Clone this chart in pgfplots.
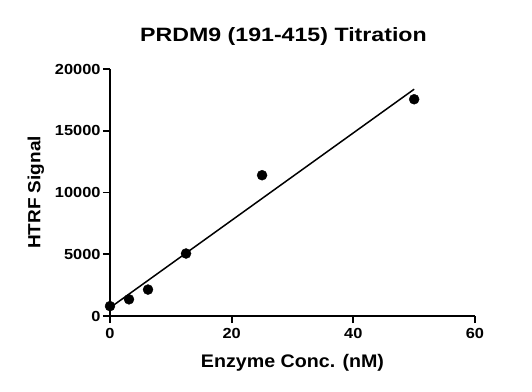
\documentclass[border=0pt]{standalone}
\usepackage{pgfplots}
\pgfplotsset{compat=1.18}
\usepackage{fontspec}
\setmainfont{Liberation Sans}
\newfontfamily\titlefont[FakeStretch=1.2]{Liberation Sans}
\newfontfamily\labelfont[FakeStretch=1.08]{Liberation Sans}
\newfontfamily\tickfont[FakeStretch=1.12]{Liberation Sans}
\begin{document}
\begin{tikzpicture}
\begin{axis}[
  scale only axis, width=365pt, height=247pt,
  xmin=0, xmax=60, ymin=0, ymax=20000,
  axis lines=left, axis line style={line width=1.7pt, -},
  xtick={0,20,40,60}, ytick={0,5000,10000,15000,20000},
  tick align=outside, major tick length=7pt,
  tick style={line width=1.7pt, black},
  minor tick num=0,
  scaled y ticks=false,
  /pgf/number format/assume math mode=true,
  /pgf/number format/1000 sep={},
  ticklabel style={font=\tickfont\fontsize{14.6}{17}\selectfont\bfseries},
  yticklabel style={xshift=1pt},
  xticklabel style={yshift=-2pt},
  xlabel={Enzyme Conc. (nM)}, ylabel={HTRF Signal},
  xlabel style={font=\labelfont\fontsize{18.2}{21}\selectfont\bfseries, yshift=-9pt},
  ylabel style={font=\labelfont\fontsize{17.6}{21}\selectfont\bfseries, yshift=4pt},
  title={PRDM9 (191-415) Titration},
  title style={font=\titlefont\fontsize{19.3}{22}\selectfont\bfseries, yshift=14pt, xshift=-9pt},
  clip=false,
]
\addplot[only marks, mark=*, mark size=5pt, black] coordinates {
  (0,800) (3.125,1350) (6.25,2140) (12.5,5060) (25,11400) (50,17550)
};
\addplot[black, line width=1.5pt] coordinates {(0,669) (50,18364)};
\end{axis}
\path[use as bounding box] (-110pt,-75pt) rectangle (422pt,316pt);
\end{tikzpicture}
\end{document}
